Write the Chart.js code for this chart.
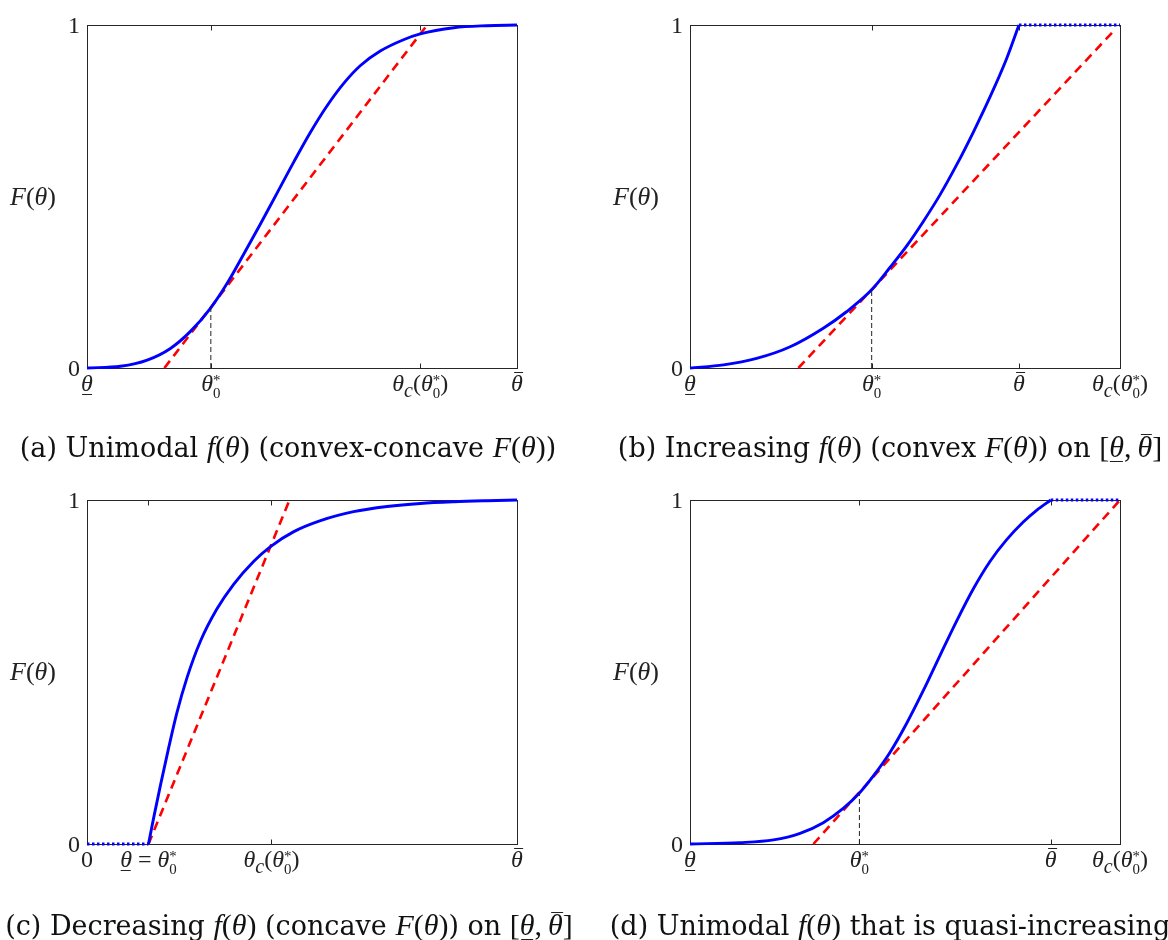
<!DOCTYPE html>
<html>
<head>
<meta charset="utf-8">
<script src="https://cdn.jsdelivr.net/npm/chart.js@4.4.0/dist/chart.umd.min.js"></script>
<style>
  body { margin: 0; background: #fff; width: 1168px; height: 940px; position: relative; overflow: hidden; }
  .panel { position: absolute; width: 584px; height: 470px; }
  .panel canvas { position: absolute; left: 0; top: 0; }
  .lbl { position: absolute; white-space: nowrap; font-family: "Liberation Serif", serif; font-size: 24px; line-height: 1; color: #222; }
  .lbl i, .cap i { font-family: "Liberation Serif", serif; font-style: italic; }
  .ul, .ov { position: relative; display: inline-block; }
  .ul::after { content: ''; position: absolute; left: 1px; right: 1px; bottom: 0.0em; border-top: 1.4px solid #222; }
  .ov::after { content: ''; position: absolute; left: 3px; right: 0; top: 0.06em; border-top: 1.4px solid #222; }
  .ss { display: inline-block; font-size: 0.62em; line-height: 0.85em; vertical-align: -0.45em; font-style: normal; text-align: left; }
  .cap { position: absolute; white-space: nowrap; font-family: "DejaVu Serif", serif; font-size: 27px; line-height: 1; color: #111; transform: translate(-50%, -50%); }
  .cap .m { font-family: "Liberation Serif", serif; font-size: 30px; }
</style>
</head>
<body>
<div class="panel" id="pa" style="left:0;top:0"><canvas id="ca" width="584" height="470"></canvas></div>
<div class="panel" id="pb" style="left:584px;top:0"><canvas id="cb" width="584" height="470"></canvas></div>
<div class="panel" id="pc" style="left:0;top:470px"><canvas id="cc" width="584" height="470"></canvas></div>
<div class="panel" id="pd" style="left:584px;top:470px"><canvas id="cd" width="584" height="470"></canvas></div>
<script>
// values, theta scaled to 0..1 across each box

// (a) unimodal density, convex-concave CDF
const thetaA = [0, 0.078, 0.140, 0.194, 0.240, 0.287, 0.326, 0.364, 0.403, 0.442, 0.481, 0.519, 0.558, 0.597, 0.636, 0.682, 0.736, 0.775, 0.853, 0.930, 1];
const cdfA   = [0, 0.005, 0.023, 0.057, 0.106, 0.174, 0.247, 0.331, 0.419, 0.510, 0.601, 0.686, 0.764, 0.830, 0.882, 0.924, 0.957, 0.974, 0.992, 0.998, 1];
const tangentXA = [0.180, 0.791];
const tangentYA = [0, 1];
const ticksA = [0, 0.288, 0.775, 1];
const tickNamesA = ['lo', 'star', 'c', 'hi'];
const dropA = 0.288;

// (b) increasing density, convex CDF, flat after theta-bar
const thetaB = [0, 0.078, 0.155, 0.233, 0.310, 0.364, 0.4225, 0.465, 0.504, 0.543, 0.581, 0.620, 0.659, 0.698, 0.736, 0.765];
const cdfB   = [0, 0.009, 0.028, 0.062, 0.116, 0.164, 0.228, 0.293, 0.356, 0.428, 0.504, 0.592, 0.688, 0.791, 0.901, 1];
const flatXB = [0.765, 1];
const flatYB = [1, 1];
const tangentXB = [0.252, 0.984];
const tangentYB = [0, 0.981];
const ticksB = [0, 0.4225, 0.765, 1];
const tickNamesB = ['lo', 'star', 'hi', 'c'];
const dropB = 0.4225;

// (c) decreasing density, concave CDF, zero before theta-low
const thetaC = [0.143, 0.155, 0.171, 0.190, 0.209, 0.233, 0.264, 0.302, 0.341, 0.388, 0.426, 0.481, 0.543, 0.620, 0.698, 0.775, 0.853, 0.930, 1];
const cdfC   = [0, 0.076, 0.172, 0.280, 0.381, 0.485, 0.590, 0.683, 0.755, 0.822, 0.864, 0.908, 0.940, 0.966, 0.981, 0.990, 0.995, 0.998, 1];
const flatXC = [0, 0.143];
const flatYC = [0, 0];
const tangentXC = [0.143, 0.471];
const tangentYC = [0, 1];
const ticksC = [0, 0.143, 0.429, 1];
const tickNamesC = ['zero', 'loStar', 'c', 'hi'];

// (d) unimodal, quasi-increasing
const thetaD = [0, 0.116, 0.194, 0.256, 0.310, 0.357, 0.394, 0.426, 0.465, 0.504, 0.543, 0.581, 0.620, 0.659, 0.698, 0.736, 0.775, 0.806, 0.839];
const cdfD   = [0, 0.004, 0.012, 0.031, 0.062, 0.104, 0.148, 0.197, 0.266, 0.351, 0.447, 0.547, 0.648, 0.742, 0.822, 0.884, 0.936, 0.970, 1];
const flatXD = [0.839, 1];
const flatYD = [1, 1];
const tangentXD = [0.287, 1];
const tangentYD = [0, 1];
const ticksD = [0, 0.394, 0.839, 1];
const tickNamesD = ['lo', 'star', 'hi', 'c'];
const dropD = 0.394;

const yTicks = [0, 1];
const yTickLabels = ['0', '1'];

// label markup
const TH = '<i>θ</i>';
const STAR = TH + '<span class="ss">*<br>0</span>';
const LO = '<i class="ul">θ</i>';
const HI = '<i class="ov">θ</i>';
const TEX = {
  zero: '0',
  lo: LO,
  hi: HI,
  star: STAR,
  c: TH + '<sub><i>c</i></sub>(' + STAR + ')',
  loStar: LO + ' = ' + STAR
};
const FLAB = '<i>F</i>(<i>θ</i>)';

const pts = (xs, ys) => xs.map((x, i) => ({ x: x, y: ys[i] }));
const interp = (xs, ys, v) => {
  for (let i = 1; i < xs.length; i++) {
    if (v <= xs[i]) return ys[i - 1] + (ys[i] - ys[i - 1]) * (v - xs[i - 1]) / (xs[i] - xs[i - 1]);
  }
  return ys[ys.length - 1];
};

const framePlugin = {
  id: 'frame',
  beforeDatasetsDraw(chart, args, opts) {
    const { ctx, chartArea: a, scales: { x } } = chart;
    ctx.save();
    ctx.strokeStyle = '#262626';
    ctx.lineWidth = 1;
    const l = Math.round(a.left) + 0.5, r = Math.round(a.right) + 0.5;
    const t = Math.round(a.top) + 0.5, b = Math.round(a.bottom) + 0.5;
    ctx.strokeRect(l, t, r - l, b - t);
    ctx.beginPath();
    opts.ticks.forEach(v => {
      const px = Math.round(x.getPixelForValue(v)) + 0.5;
      ctx.moveTo(px, b); ctx.lineTo(px, b - 5);
      ctx.moveTo(px, t); ctx.lineTo(px, t + 5);
    });
    ctx.stroke();
    ctx.restore();
  }
};

function addLabel(panel, html, left, top, tx, ty) {
  const d = document.createElement('div');
  d.className = 'lbl';
  d.innerHTML = html;
  d.style.left = left + 'px';
  d.style.top = top + 'px';
  d.style.transform = 'translate(' + tx + ',' + ty + ')';
  panel.appendChild(d);
  return d;
}

function makePanel(p) {
  const datasets = [];
  if (p.flatX) {
    datasets.push({ data: pts(p.flatX, p.flatY), borderColor: '#0000ff', borderWidth: 2.8, borderDash: [2.5, 2.5] });
  }
  if (p.drop !== undefined) {
    const fy = interp(p.theta, p.cdf, p.drop);
    datasets.push({ data: pts([p.drop, p.drop], [0, fy]), borderColor: '#222', borderWidth: 1, borderDash: [5, 3] });
  }
  datasets.push({ data: pts(p.theta, p.cdf), borderColor: '#0000ff', borderWidth: 2.9, cubicInterpolationMode: 'monotone' });
  datasets.push({ data: pts(p.tanX, p.tanY), borderColor: '#ff0000', borderWidth: 2.6, borderDash: [9, 6] });
  datasets.forEach(d => { d.showLine = true; d.pointRadius = 0; d.fill = false; d.clip = false; });

  const chart = new Chart(document.getElementById(p.canvas), {
    type: 'scatter',
    data: { datasets: datasets },
    plugins: [framePlugin],
    options: {
      responsive: false, animation: false, events: [], devicePixelRatio: 1,
      layout: { padding: p.pad },
      plugins: { legend: { display: false }, tooltip: { enabled: false }, frame: { ticks: p.ticks } },
      scales: {
        x: { type: 'linear', min: 0, max: 1, display: false },
        y: { type: 'linear', min: 0, max: 1, display: false }
      }
    }
  });

  const panel = document.getElementById(p.panel);
  const a = chart.chartArea, xs = chart.scales.x, ys = chart.scales.y;
  p.ticks.forEach((v, i) => addLabel(panel, TEX[p.names[i]], xs.getPixelForValue(v), a.bottom + 3, '-50%', '0'));
  yTicks.forEach((v, i) => addLabel(panel, yTickLabels[i], a.left - 7, ys.getPixelForValue(v), '-100%', '-50%'));
  const fl = addLabel(panel, FLAB, a.left - 54, (a.top + a.bottom) / 2, '-50%', '-50%');
  fl.style.fontSize = '26px';
  const cap = document.createElement('div');
  cap.className = 'cap';
  cap.innerHTML = p.caption;
  cap.style.left = p.capPos[0] + 'px';
  cap.style.top = p.capPos[1] + 'px';
  panel.appendChild(cap);
}

const fM = '<span class="m"><i>f</i>(<i>θ</i>)</span>';
const FM = '<span class="m"><i>F</i>(<i>θ</i>)</span>';
const IV = '<span class="m">[' + LO + ',&thinsp;' + HI + ']</span>';

makePanel({ panel: 'pa', canvas: 'ca', pad: { left: 87, right: 67, top: 25, bottom: 102 },
  theta: thetaA, cdf: cdfA, tanX: tangentXA, tanY: tangentYA, ticks: ticksA, names: tickNamesA, drop: dropA,
  caption: '(a) Unimodal ' + fM + ' (convex-concave ' + FM + ')', capPos: [288, 447] });
makePanel({ panel: 'pb', canvas: 'cb', pad: { left: 106, right: 48, top: 25, bottom: 102 },
  theta: thetaB, cdf: cdfB, flatX: flatXB, flatY: flatYB, tanX: tangentXB, tanY: tangentYB, ticks: ticksB, names: tickNamesB, drop: dropB,
  caption: '(b) Increasing ' + fM + ' (convex ' + FM + ') on ' + IV, capPos: [306, 447] });
makePanel({ panel: 'pc', canvas: 'cc', pad: { left: 87, right: 67, top: 30, bottom: 96 },
  theta: thetaC, cdf: cdfC, flatX: flatXC, flatY: flatYC, tanX: tangentXC, tanY: tangentYC, ticks: ticksC, names: tickNamesC,
  caption: '(c) Decreasing ' + fM + ' (concave ' + FM + ') on ' + IV, capPos: [289, 455] });
makePanel({ panel: 'pd', canvas: 'cd', pad: { left: 106, right: 48, top: 30, bottom: 96 },
  theta: thetaD, cdf: cdfD, flatX: flatXD, flatY: flatYD, tanX: tangentXD, tanY: tangentYD, ticks: ticksD, names: tickNamesD, drop: dropD,
  caption: '(d) Unimodal ' + fM + ' that is quasi-increasing', capPos: [306, 455] });
</script>
</body>
</html>
